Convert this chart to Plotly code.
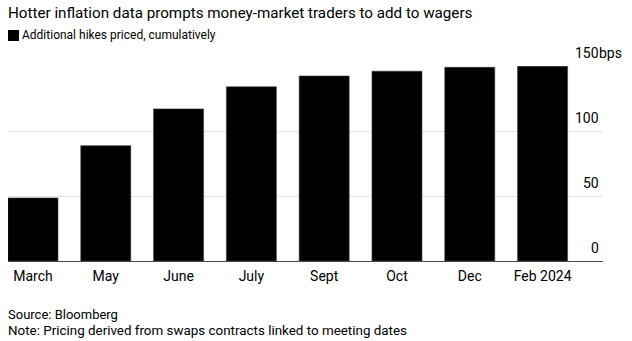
import plotly.graph_objects as go

categories = ["March", "May", "June", "July", "Sept", "Oct", "Dec", "Feb 2024"]
hikes = [48.5, 88.7, 117, 134, 142.3, 146, 149, 149.8]
y_ticks = [0, 50, 100, 150]
y_tick_labels = ["0", "50", "100", "150"]

FONT = "Roboto, Arial, sans-serif"

fig = go.Figure()
fig.add_trace(go.Bar(
    x=list(range(len(categories))), y=hikes,
    marker=dict(color="#000000", line=dict(color="#3a3a3a", width=0.6)),
    showlegend=False, hoverinfo="skip",
))

fig.update_layout(
    width=632, height=341,
    margin=dict(l=8, r=29, t=66, b=80),
    paper_bgcolor="white", plot_bgcolor="white",
    bargap=0.313,
    font=dict(family=FONT, color="#000000"),
    xaxis=dict(
        range=[-0.343, 7.83],
        tickmode="array", tickvals=list(range(len(categories))), ticktext=categories,
        showgrid=False, zeroline=False,
        showline=True, linecolor="#4a4a4a", linewidth=1,
        ticks="outside", ticklen=2, tickcolor="rgba(0,0,0,0)",
        tickfont=dict(size=14, family=FONT, color="#000"),
        fixedrange=True,
    ),
    yaxis=dict(
        range=[0, 150],
        tickmode="array", tickvals=y_ticks,
        showticklabels=False,
        showgrid=True, gridcolor="#e3e3e3", gridwidth=1,
        zeroline=False, showline=False,
        fixedrange=True,
    ),
)

plot_w = 632 - 8 - 29
plot_h = 341 - 66 - 80
def py(pix):
    return (341 - 80 - pix) / plot_h
def px(pix):
    return (pix - 8) / plot_w

ann = []
for v, lab in zip(y_ticks, y_tick_labels):
    ann.append(dict(x=px(601), xref="paper", y=v, yref="y", text=lab, showarrow=False,
                    xanchor="right", yanchor="middle", yshift=13,
                    font=dict(size=14, family=FONT, color="#000")))
ann.append(dict(x=px(601), xref="paper", y=y_ticks[-1], yref="y", text="bps",
                showarrow=False, xanchor="left", yanchor="middle", yshift=13, xshift=-4,
                font=dict(size=14, family=FONT, color="#000")))

ann.append(dict(x=px(6), xref="paper", y=py(13), yref="paper",
                text="Hotter inflation data prompts money-market traders to add to wagers",
                showarrow=False, xanchor="left", yanchor="middle",
                font=dict(size=15.2, family=FONT, color="#000")))
ann.append(dict(x=px(20), xref="paper", y=py(35.5), yref="paper",
                text="Additional hikes priced, cumulatively",
                showarrow=False, xanchor="left", yanchor="middle",
                font=dict(size=12, family=FONT, color="#000")))
ann.append(dict(x=px(6), xref="paper", y=py(314), yref="paper",
                text="Source: Bloomberg",
                showarrow=False, xanchor="left", yanchor="middle",
                font=dict(size=13, family=FONT, color="#000")))
ann.append(dict(x=px(6), xref="paper", y=py(330), yref="paper",
                text="Note: Pricing derived from swaps contracts linked to meeting dates",
                showarrow=False, xanchor="left", yanchor="middle",
                font=dict(size=13.4, family=FONT, color="#000")))
fig.update_layout(annotations=ann)

fig.add_shape(type="rect", xref="paper", yref="paper",
              x0=px(8), x1=px(19), y0=py(41), y1=py(30),
              fillcolor="#000", line=dict(width=0))

fig.write_html("out.html")
